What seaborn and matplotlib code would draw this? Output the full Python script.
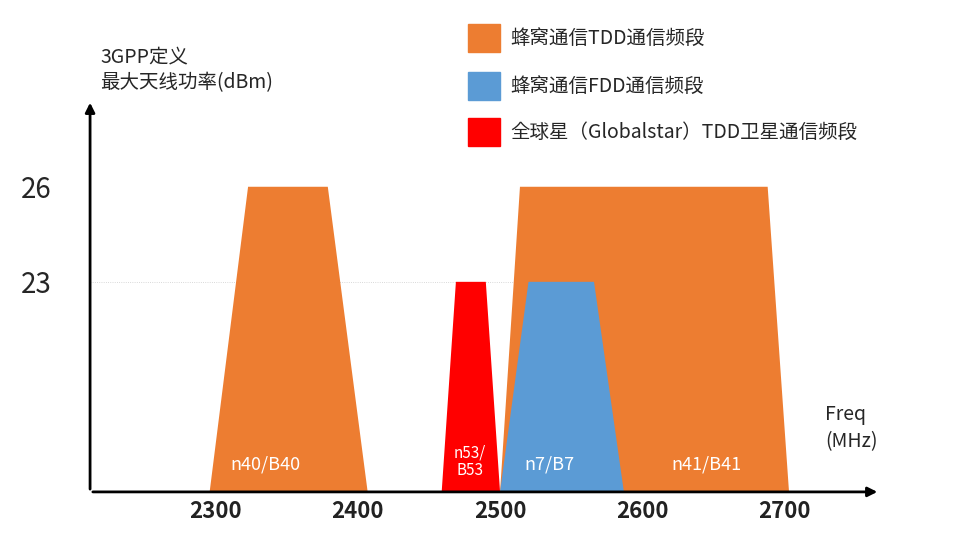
import numpy as np
import matplotlib.pyplot as plt
import matplotlib.patches as mpatches
from matplotlib import font_manager
import seaborn as sns

sns.set_style("white")
cjk = [f.name for f in font_manager.fontManager.ttflist if "CJK" in f.name]
cjk = sorted(set(cjk), key=lambda n: (" SC" not in n, n))
plt.rcParams["font.family"] = cjk[:1] + ["DejaVu Sans"]
plt.rcParams["font.sans-serif"] = cjk[:1] + ["DejaVu Sans"]

# band trapezoids: base start/end and top start/end (MHz), plus max power (dBm)
bands = ["n40/B40", "n41/B41", "n7/B7", "n53/\nB53"]
base_lo = [2296, 2500, 2500, 2459]
base_hi = [2407, 2703, 2587, 2500]
top_lo = [2323, 2514, 2520, 2469]
top_hi = [2379, 2688, 2566, 2490]
power = [26, 26, 23, 23]
band_colors = ["#ED7D31", "#ED7D31", "#5B9BD5", "#FF0000"]
label_pos = [(2335, 3.0), (2645, 3.0), (2535, 3.0), (2479, 3.3)]

x_ticks = [2300, 2400, 2500, 2600, 2700]
y_ticks = [23, 26]

legend_labels = ["蜂窝通信TDD通信频段", "蜂窝通信FDD通信频段", "全球星（Globalstar）TDD卫星通信频段"]
legend_colors = ["#ED7D31", "#5B9BD5", "#FF0000"]

# schematic (non-linear) power axis
yk = [0, 23, 26, 100]
yt = [0, 17.9, 26, 100]
fwd = lambda v: np.interp(v, yk, yt)
inv = lambda v: np.interp(v, yt, yk)

fig = plt.figure(figsize=(9.79, 5.49), dpi=100)
ax = fig.add_axes([0.092, 0.104, 0.807, 0.714])
ax.set_yscale("function", functions=(fwd, inv))

for i, b in enumerate(bands):
    xs = [base_lo[i], top_lo[i], top_hi[i], base_hi[i]]
    ys = [0, power[i], power[i], 0]
    ax.fill(xs, ys, color=band_colors[i], lw=0, zorder=2)
    fs = 11 if "\n" in b else 13
    ax.text(label_pos[i][0], label_pos[i][1], b, color="white", fontsize=fs,
            ha="center", va="center", zorder=3, linespacing=1.1)

ax.plot([2212, 2530], [23, 23], color="#cccccc", lw=0.6, ls=":", zorder=1)

ax.set_xlim(2212, 2767)
ax.set_ylim(0, 33.4)
ax.set_xticks(x_ticks)
ax.set_xticklabels([str(t) for t in x_ticks], fontsize=16, color="#222222", fontweight="bold")
ax.set_yticks(y_ticks)
ax.set_yticklabels([str(t) for t in y_ticks], fontsize=20)
ax.tick_params(length=0, pad=6)
ax.tick_params(axis="y", pad=28)
for s in ["top", "right", "left", "bottom"]:
    ax.spines[s].set_visible(False)

# axes with arrows
ax.annotate("", xy=(0, 1.0), xytext=(0, 0), xycoords="axes fraction",
            arrowprops=dict(arrowstyle="-|>", color="black", lw=2, mutation_scale=14))
ax.annotate("", xy=(1.0, 0), xytext=(0, 0), xycoords="axes fraction",
            arrowprops=dict(arrowstyle="-|>", color="black", lw=2, mutation_scale=14))

fig.text(100 / 979, 1 - 70 / 549, "3GPP定义\n最大天线功率(dBm)", fontsize=14, va="center",
         ha="left", linespacing=1.3)
fig.text(825 / 979, 1 - 428 / 549, "Freq\n(MHz)", fontsize=14, va="center", ha="left",
         linespacing=1.4)

for i, (lab, col) in enumerate(zip(legend_labels, legend_colors)):
    yc = [38, 86, 132][i]
    fig.patches.append(mpatches.Rectangle((468 / 979, 1 - (yc + 14) / 549), 32 / 979, 28 / 549,
                                          color=col, transform=fig.transFigure))
    fig.text(510 / 979, 1 - yc / 549, lab, fontsize=14, va="center", ha="left")

fig.savefig("out.png", dpi=100)
